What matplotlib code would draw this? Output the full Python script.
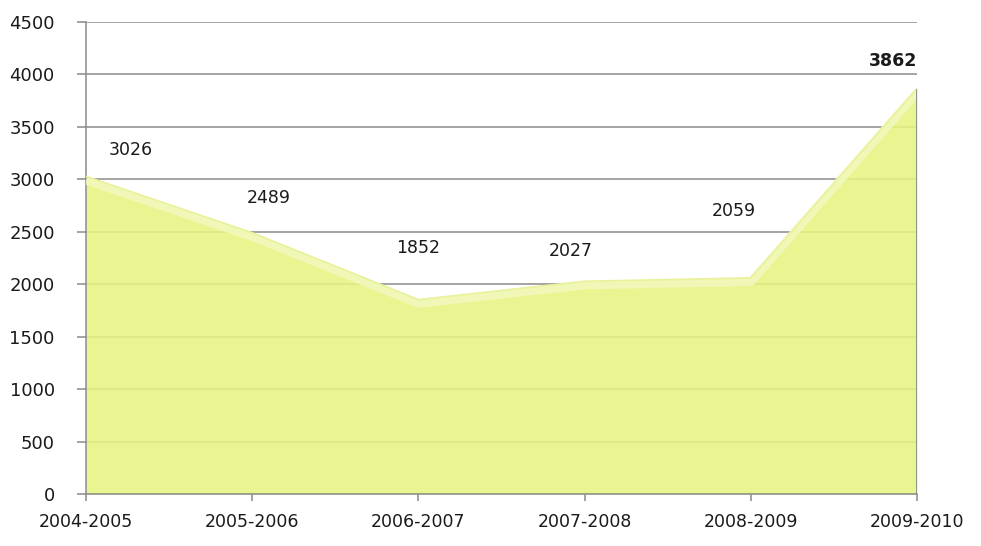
import numpy as np
import matplotlib
matplotlib.use('Agg')
import matplotlib.pyplot as plt
import matplotlib.transforms as mtransforms

# data
seasons = ['2004-2005', '2005-2006', '2006-2007', '2007-2008', '2008-2009', '2009-2010']
values = [3026, 2489, 1852, 2027, 2059, 3862]
yticks = [0, 500, 1000, 1500, 2000, 2500, 3000, 3500, 4000, 4500]

# label offsets (points) from each data point
label_dx = [32, 12, 0, -10, -12, -17]
label_dy = [19, 25, 37, 22, 48, 20]

fig = plt.figure(figsize=(9.81, 5.46), dpi=100)
ax = fig.add_axes([0.0877, 0.0952, 0.8471, 0.8651])

x = np.arange(len(seasons))

# grid under the area
ax.set_axisbelow(True)
ax.yaxis.grid(True, color='#8c8c8c', linewidth=1.1)

# area with a soft highlight along the top edge
ax.fill_between(x, 0, values, color='#E5F482', alpha=0.88, linewidth=0, zorder=2)
shift = mtransforms.offset_copy(ax.transData, fig=fig, x=0, y=-4, units='dots')
ax.plot(x, values, color='#F3F8BC', linewidth=6, solid_capstyle='butt',
        solid_joinstyle='round', transform=shift, zorder=3, alpha=0.9)
ax.plot(x, values, color='#E9F29A', linewidth=1.2, zorder=3)
ax.vlines(x[-1], 0, values[-1], color='#8a8a8a', linewidth=1.3, zorder=4)

# value labels
for i, v in enumerate(values):
    ax.annotate(str(v), (x[i], v), xytext=(label_dx[i], label_dy[i]),
                textcoords='offset points', ha='center', va='center',
                fontsize=12.5, color='#1a1a1a',
                fontweight='bold' if i == len(values) - 1 else 'normal')

ax.set_xlim(0, len(seasons) - 1)
ax.set_ylim(0, 4500)
ax.set_xticks(x)
ax.set_xticklabels(seasons)
ax.set_yticks(yticks)

for s in ['top', 'right']:
    ax.spines[s].set_visible(False)
for s in ['left', 'bottom']:
    ax.spines[s].set_color('#8a8a8a')
    ax.spines[s].set_linewidth(1.1)

ax.tick_params(axis='y', length=6.5, width=1.1, color='#8a8a8a', pad=16,
               labelsize=13, labelcolor='#1a1a1a')
ax.tick_params(axis='x', length=5, width=1.1, color='#8a8a8a', pad=9,
               labelsize=12.5, labelcolor='#1a1a1a')

fig.savefig('out.png', dpi=100)
